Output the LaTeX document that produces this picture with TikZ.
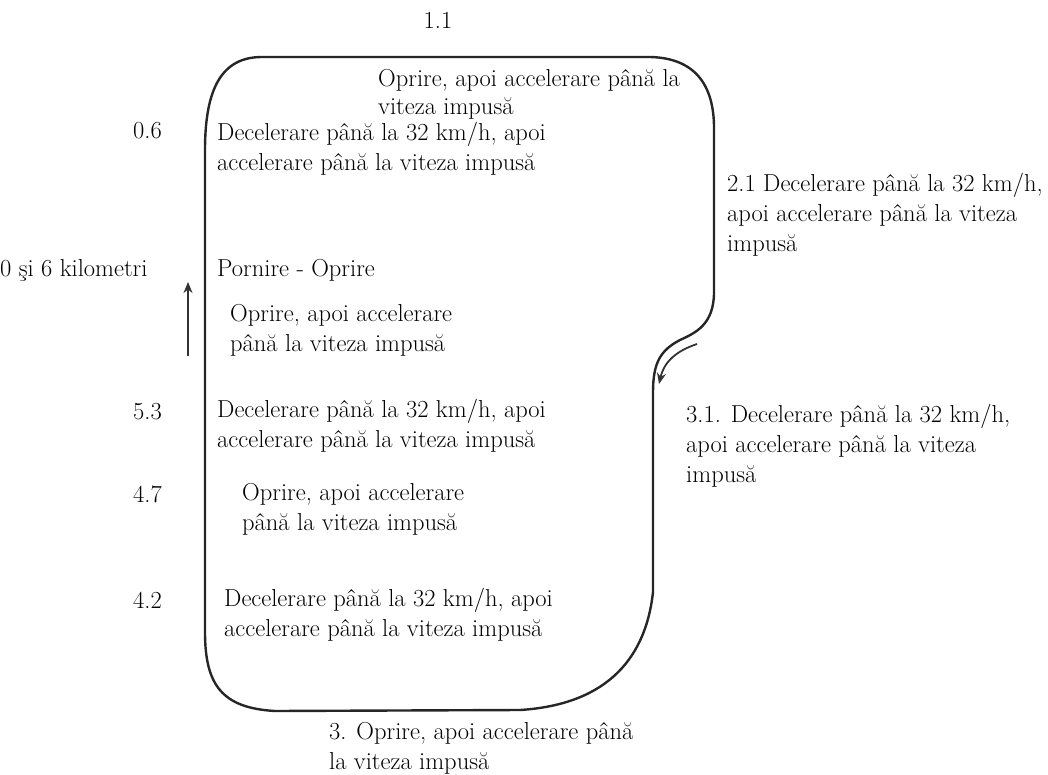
\documentclass[tikz,border=0pt]{standalone}
\usepackage{fontspec}
\usetikzlibrary{arrows.meta}
\begin{document}
\begin{tikzpicture}[x=1pt,y=-1pt,
  lbl/.style={anchor=west,align=left,inner sep=0pt,font=\fontsize{24.5}{30}\selectfont},
  km/.style={anchor=west,inner sep=0pt,font=\fontsize{24.5}{30}\selectfont},
  route/.style={draw=black!85,line width=2.4pt,line join=round,line cap=round},
  dir/.style={draw=black!80,line width=1.8pt,-{Stealth[length=11pt,width=9pt]}}]
\useasboundingbox (0,0) rectangle (1048,775);

% closed test route
\draw[route] (205,150) .. controls (205,88) and (222,57) .. (262,57)
  -- (650,57) .. controls (695,58) and (714,85) .. (714,128)
  -- (714,292) .. controls (714,325) and (695,333) .. (680,340)
  .. controls (661,350) and (653,362) .. (653,392)
  -- (653,592) .. controls (645,665) and (600,705) .. (520,710)
  -- (275,711) .. controls (222,708) and (205,685) .. (205,632) -- cycle;

% direction arrows
\coordinate (ua) at (188,356);
\coordinate (ub) at (188,282);
\draw[dir] (ua) -- (ub);
\coordinate (ra) at (697,344);
\coordinate (rb) at (659,384);
\draw[dir] (ra) .. controls (676,351) and (664,362) .. (rb);

% distance marks
\node[km,anchor=center] (k11) at (438,20) {1.1};
\node[km] (k06) at (133,131) {0.6};
\node[km] (k0)  at (0,270) {0 şi 6 kilometri};
\node[km] (k53) at (133,412) {5.3};
\node[km] (k47) at (133,494) {4.7};
\node[km] (k42) at (133,600) {4.2};

% events along the route
\node[lbl,font=\fontsize{24.5}{28}\selectfont] (t1) at (378,94) {Oprire, apoi accelerare până la\\viteza impusă};
\node[lbl] (t2) at (217,149) {Decelerare până la 32 km/h, apoi\\accelerare până la viteza impusă};
\node[lbl] (t3) at (727,215) {2.1 Decelerare până la 32 km/h,\\apoi accelerare până la viteza\\impusă};
\node[lbl] (t4) at (217,270) {Pornire - Oprire};
\node[lbl] (t5) at (230,330) {Oprire, apoi accelerare\\până la viteza impusă};
\node[lbl] (t6) at (217,426) {Decelerare până la 32 km/h, apoi\\accelerare până la viteza impusă};
\node[lbl] (t7) at (686,446) {3.1. Decelerare până la 32 km/h,\\apoi accelerare până la viteza\\impusă};
\node[lbl] (t8) at (242,509) {Oprire, apoi accelerare\\până la viteza impusă};
\node[lbl] (t9) at (224,615) {Decelerare până la 32 km/h, apoi\\accelerare până la viteza impusă};
\node[lbl] (t10) at (329,748) {3. Oprire, apoi accelerare până\\la viteza impusă};
\end{tikzpicture}
\end{document}
